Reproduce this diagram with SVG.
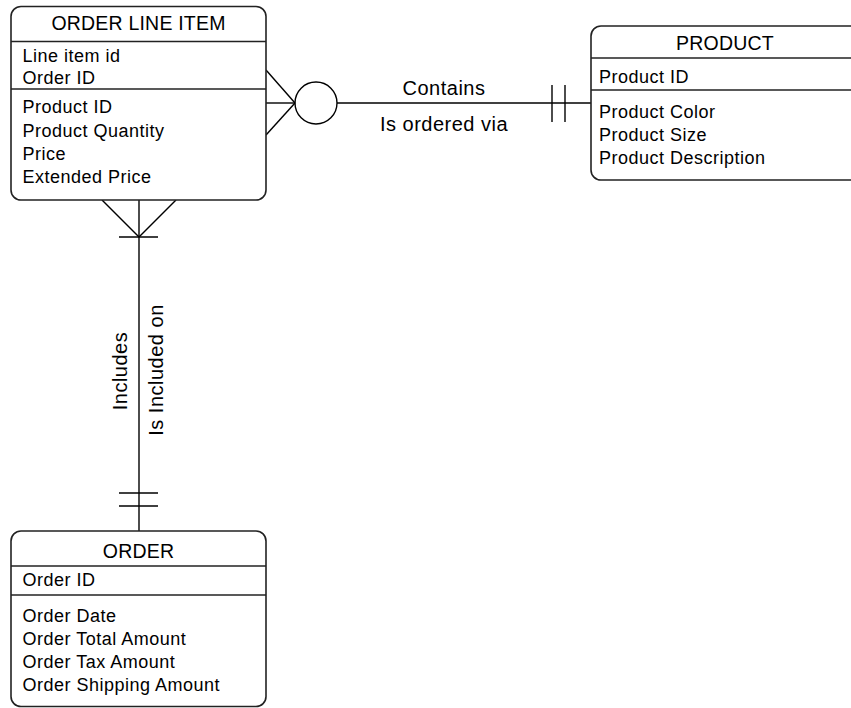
<svg xmlns="http://www.w3.org/2000/svg" width="851" height="708" viewBox="0 0 851 708">
  <style>
    .box { fill: #ffffff; stroke: #222222; stroke-width: 1.6; }
    .div { stroke: #222222; stroke-width: 1.6; }
    .ln { stroke: #000000; stroke-width: 1.4; fill: none; }
    text { font-family: "Liberation Sans", Arial, sans-serif; fill: #000000; }
    .title { font-size: 19.5px; letter-spacing: 0.2px; text-anchor: middle; }
    .attr { font-size: 18px; letter-spacing: 0.5px; }
    .lbl { font-size: 20px; letter-spacing: 0.5px; text-anchor: middle; }
  </style>

  <rect width="851" height="708" fill="#ffffff"/>

  <!-- relationship connectors -->
  <g id="connectors">
    <!-- ORDER LINE ITEM (many, optional) to PRODUCT (exactly one) -->
    <line class="ln" x1="266" y1="70" x2="295" y2="103"/>
    <line class="ln" x1="266" y1="103" x2="295" y2="103"/>
    <line class="ln" x1="266" y1="135" x2="295" y2="103"/>
    <circle class="ln" cx="316" cy="103" r="21"/>
    <line class="ln" x1="337" y1="103" x2="591" y2="103"/>
    <line class="ln" x1="552" y1="85" x2="552" y2="122"/>
    <line class="ln" x1="565" y1="85" x2="565" y2="122"/>
    <text class="lbl" x="444" y="95">Contains</text>
    <text class="lbl" x="444" y="131">Is ordered via</text>

    <!-- ORDER LINE ITEM (many) to ORDER (exactly one) -->
    <line class="ln" x1="139" y1="200" x2="139" y2="531"/>
    <line class="ln" x1="102" y1="200" x2="139" y2="237"/>
    <line class="ln" x1="176" y1="200" x2="139" y2="237"/>
    <line class="ln" x1="119" y1="237" x2="158" y2="237"/>
    <line class="ln" x1="119" y1="493" x2="158" y2="493"/>
    <line class="ln" x1="119" y1="506" x2="158" y2="506"/>
    <text class="lbl" transform="translate(127,371) rotate(-90)">Includes</text>
    <text class="lbl" transform="translate(163,370) rotate(-90)">Is Included on</text>
  </g>

  <!-- ORDER LINE ITEM entity -->
  <g id="order-line-item">
    <rect class="box" x="11" y="6.5" width="255" height="193.5" rx="10" ry="10"/>
    <line class="div" x1="11" y1="41.5" x2="266" y2="41.5"/>
    <line class="div" x1="11" y1="89" x2="266" y2="89"/>
    <text class="title" x="138.5" y="30">ORDER LINE ITEM</text>
    <text class="attr" x="22.5" y="62">Line item id</text>
    <text class="attr" x="22.5" y="84">Order ID</text>
    <text class="attr" x="22.5" y="113">Product ID</text>
    <text class="attr" x="22.5" y="137">Product Quantity</text>
    <text class="attr" x="22.5" y="160">Price</text>
    <text class="attr" x="22.5" y="183">Extended Price</text>
  </g>

  <!-- PRODUCT entity -->
  <g id="product">
    <rect class="box" x="591" y="26" width="270" height="154" rx="10" ry="10"/>
    <line class="div" x1="591" y1="58" x2="861" y2="58"/>
    <line class="div" x1="591" y1="90" x2="861" y2="90"/>
    <text class="title" x="725" y="50">PRODUCT</text>
    <text class="attr" x="599" y="83">Product ID</text>
    <text class="attr" x="599" y="118">Product Color</text>
    <text class="attr" x="599" y="141">Product Size</text>
    <text class="attr" x="599" y="164">Product Description</text>
  </g>

  <!-- ORDER entity -->
  <g id="order">
    <rect class="box" x="11" y="531" width="255" height="175.5" rx="10" ry="10"/>
    <line class="div" x1="11" y1="566" x2="266" y2="566"/>
    <line class="div" x1="11" y1="595" x2="266" y2="595"/>
    <text class="title" x="138.5" y="558">ORDER</text>
    <text class="attr" x="22.5" y="586">Order ID</text>
    <text class="attr" x="22.5" y="622">Order Date</text>
    <text class="attr" x="22.5" y="645">Order Total Amount</text>
    <text class="attr" x="22.5" y="668">Order Tax Amount</text>
    <text class="attr" x="22.5" y="691">Order Shipping Amount</text>
  </g>
</svg>
